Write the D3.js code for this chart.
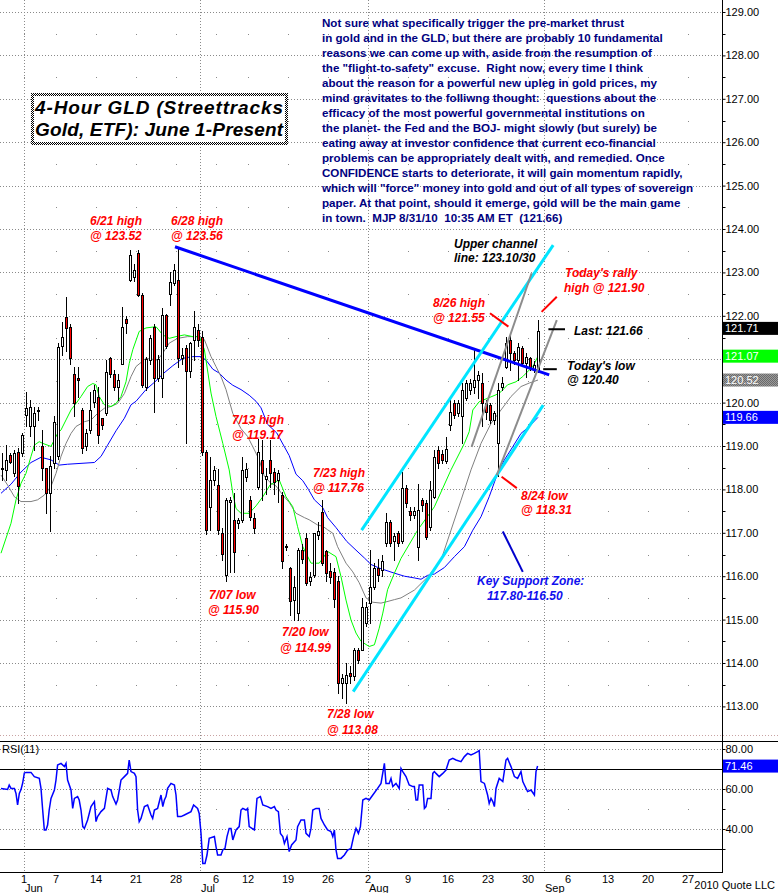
<!DOCTYPE html>
<html><head><meta charset="utf-8">
<script src="https://cdn.jsdelivr.net/npm/d3@7"></script>
<style>html,body{margin:0;padding:0;background:#fff;}svg{display:block;}</style>
</head><body><svg id="c" width="778" height="893"></svg>
<script>
// ---------------- DATA ----------------
const candleStart = -6; // bar index of first candle (4-hour bars, 2 per trading day; bar 0 = Jun 1 am)
const opens = [118.50,118.45,118.80,118.37,118.87,118.83,
119.72,119.45,119.45,119.80,118.99,118.49,117.91,118.60,118.76,121.30,
121.98,121.75,120.67,120.57,119.83,118.99,119.37,120.02,120.14,119.64,
119.75,121.02,120.67,120.37,120.90,121.92,122.83,122.90,123.44,122.48,
120.37,120.98,121.75,120.56,120.56,122.02,122.50,122.75,122.83,121.02,
121.25,120.72,121.45,121.68,121.52,118.87,117.60,118.22,118.10,117.00,
116.02,117.72,117.29,117.22,117.29,118.29,117.75,117.33,118.06,118.68,
118.25,118.68,118.40,118.22,117.87,116.70,116.18,115.45,115.15,116.60,
116.87,115.88,116.03,116.95,117.49,116.57,116.12,116.10,115.88,113.54,
113.54,113.77,113.69,114.30,114.30,114.92,115.38,115.76,116.18,116.15,
116.76,117.26,116.80,116.99,116.80,118.03,117.50,117.42,116.68,117.75,
117.68,117.14,117.83,118.90,118.82,118.66,119.48,119.98,119.75,119.68,
120.10,120.29,120.37,120.52,120.45,119.98,119.94,119.60,119.06,120.37,
120.83,121.45,121.14,120.98,121.25,120.91,121.02,120.78,120.75];
const highs = [118.83,119.02,118.85,118.90,118.95,119.30,
120.25,120.06,119.90,119.90,119.37,118.50,118.76,119.70,121.37,121.85,
122.44,121.80,120.83,120.83,119.87,119.40,120.25,120.40,120.37,119.65,
120.98,121.05,120.75,120.67,122.21,122.00,123.52,123.20,123.52,122.52,
121.05,121.55,121.80,121.10,122.18,122.05,123.00,123.20,123.56,121.25,
121.33,121.40,122.10,121.80,121.64,118.90,118.75,118.55,118.48,117.10,
117.80,117.83,117.91,117.35,118.75,118.60,117.85,117.45,119.17,119.14,
118.50,119.14,118.50,118.45,117.95,116.75,116.22,116.00,116.65,116.75,
116.99,116.10,117.00,117.25,117.76,116.60,116.30,116.20,116.00,113.75,
114.00,113.92,114.35,114.35,115.50,115.40,116.60,116.30,116.40,116.50,
117.45,117.30,117.00,117.05,118.41,118.10,117.60,117.60,118.13,117.80,
117.75,118.20,118.90,119.00,118.90,119.20,120.06,120.05,120.05,120.45,
120.53,120.55,121.26,120.72,120.68,120.06,119.98,119.80,120.45,120.60,
121.52,121.55,121.20,121.37,121.30,121.14,121.06,120.95,121.90];
const lows = [118.22,118.22,118.60,118.30,117.68,118.76,
119.45,119.22,118.90,119.60,118.22,117.45,117.03,118.50,118.70,121.10,
121.20,120.90,119.70,120.14,118.85,118.90,119.30,119.90,119.06,119.40,
119.72,120.60,120.30,120.06,120.90,121.60,122.80,122.80,122.45,120.37,
120.30,120.90,119.79,120.50,120.14,121.25,122.25,122.70,120.83,120.90,
119.06,120.60,120.98,121.30,118.80,116.98,117.06,118.10,116.98,116.37,
115.90,116.10,116.10,117.10,117.25,118.20,117.30,117.00,118.02,117.76,
117.90,118.06,117.90,117.70,116.20,116.60,115.11,114.99,115.00,116.30,
115.80,115.80,115.98,116.85,116.26,115.90,115.85,115.30,113.30,113.20,
113.08,113.54,113.60,114.00,114.30,114.85,114.92,115.70,115.90,116.00,
116.69,116.69,116.38,116.70,116.76,117.60,117.30,117.35,116.37,117.50,
116.85,117.07,117.80,118.50,118.60,118.60,119.38,119.65,119.70,119.06,
120.06,120.20,120.22,120.10,119.45,119.63,119.52,119.50,118.31,120.30,
120.80,120.75,120.90,120.53,120.85,120.60,120.75,120.70,120.70];
const closes = [118.48,118.68,118.64,118.83,118.07,119.25,
119.87,119.90,119.75,119.82,118.49,117.91,118.53,119.56,121.29,121.52,
121.71,121.02,119.98,120.52,118.95,119.30,119.83,120.29,119.25,119.48,
120.71,120.67,120.37,120.52,121.75,121.84,123.41,123.05,122.48,120.41,
121.00,121.48,120.56,121.00,122.02,121.30,122.79,123.06,121.02,121.10,
120.72,121.37,121.75,121.45,118.87,117.06,118.22,118.45,117.06,116.52,
117.75,117.76,116.56,117.29,118.45,118.48,117.37,117.10,118.87,118.37,
118.30,118.37,118.18,118.37,116.34,116.68,115.42,115.75,116.60,116.40,
115.84,115.99,116.99,117.05,116.30,116.07,115.98,115.47,113.53,113.65,
113.73,113.69,114.30,114.07,115.30,115.30,115.76,116.18,116.03,116.34,
117.26,116.76,116.92,116.76,118.03,117.68,117.42,117.50,117.52,117.64,
116.91,117.98,118.75,118.60,118.67,118.94,119.79,119.72,119.98,120.29,
120.45,120.45,120.53,120.64,119.98,119.79,119.60,119.75,120.29,120.45,
121.37,121.14,120.98,121.29,120.91,121.06,120.83,120.87,121.66];

// moving averages: [bar index, price]
const maGreen = [[-6.25,116.53],[-3.75,117.22],[-2.5,117.76],[-1.25,118.14],[0,118.37],[1.25,118.76],[2.1,119.02],[3.3,119.1],[4.2,119.06],[6.25,118.99],[7.9,119.29],[8.75,119.37],[10,119.6],[11.25,119.83],[12.5,119.98],[13.75,120.14],[15.4,120.37],[16.7,120.44],[17.5,120.41],[18.3,120.14],[19.6,119.95],[21.25,119.91],[22.5,119.98],[23.75,120.14],[25,120.48],[25.8,120.9],[26.7,121.22],[28.3,121.64],[30,121.72],[32.5,121.75],[34.2,121.56],[35.8,121.48],[37.5,121.52],[39.6,121.56],[41.7,121.52],[43.3,121.52],[44.6,121.22],[46.25,120.22],[47.5,119.68],[49.2,119.06],[50.8,118.45],[51.7,117.91],[52.5,117.56],[53.75,117.45],[55.8,117.45],[57.5,117.62],[59.2,117.83],[61,118.1],[62.5,118.18],[63.3,118.22],[65,117.83],[66.7,117.6],[67.9,117.14],[69.2,116.68],[71.25,116.3],[73.3,116.3],[75.4,116.57],[77.5,116.45],[78.75,115.99],[80,115.45],[81.25,114.99],[82.5,114.69],[83.75,114.5],[85.8,114.38],[87.1,114.42],[88.3,114.8],[89.2,115.15],[90.4,115.69],[92.1,116.07],[93.75,116.41],[97.9,117.06],[102.1,117.6],[106.25,118.45],[109.6,119.06],[110.8,119.33],[111.7,119.83],[113.3,120.02],[115.4,120.1],[117.5,120.18],[118.75,120.25],[120.4,120.41],[122.5,120.48],[124.2,120.6],[125.8,120.75],[126.7,120.83],[128,121.07]];
const maGray = [[-6.25,118.33],[-4.6,118.1],[-2.9,117.83],[-1.25,117.72],[1.25,117.72],[2.9,117.76],[4.6,117.87],[6.25,118.07],[7.5,118.37],[8.75,118.76],[10,119.06],[11.25,119.29],[12.5,119.45],[14.6,119.56],[16.25,119.6],[17.9,119.75],[19.6,119.87],[21.25,119.91],[22.9,119.98],[24.6,120.21],[26.25,120.6],[27.5,120.83],[30,121.02],[32.9,120.98],[34.2,121.14],[35.8,121.37],[37.9,121.48],[40.4,121.52],[42.9,121.52],[44.6,121.45],[46.25,121.06],[47.5,120.83],[48.75,120.6],[50,120.3],[51.7,119.75],[53.75,119.4],[55.4,119.22],[57.1,118.91],[58.3,118.68],[59.6,118.3],[61.25,118.14],[62.5,118.08],[64.2,117.87],[65.8,117.7],[67.5,117.45],[69.6,117.35],[70.8,117.3],[72.9,117.18],[74.2,117.15],[75.4,117.07],[76.7,116.99],[77.9,116.68],[80,116.3],[81.7,116.1],[83.3,115.85],[85,115.5],[86.7,115.4],[88.75,115.38],[90.5,115.42],[92.1,115.46],[93.75,115.5],[97.1,115.68],[100.4,115.98],[103.75,116.37],[106.25,117.06],[108.75,117.75],[111.25,118.45],[113.75,119.06],[116.25,119.52],[118.75,119.83],[121.25,120.14],[123.75,120.37],[125.8,120.45],[128,120.52]];
const maBlue = [[-6.25,117.91],[-3.75,118.12],[-1.25,118.4],[1.25,118.62],[3.75,118.74],[6.25,118.68],[8.3,118.56],[10.4,118.58],[13.75,118.6],[17.1,118.62],[18.75,118.76],[20.4,119.02],[22.5,119.35],[24.6,119.64],[26.25,119.95],[27.5,120.03],[30,120.3],[32.5,120.5],[34.2,120.66],[36.7,120.85],[39.2,121.02],[41.7,121.06],[43.75,121.06],[45,120.98],[46.7,120.77],[48.3,120.68],[50,120.52],[51.7,120.4],[53.75,120.3],[55.8,120.17],[57.5,120.03],[58.75,119.88],[60.4,119.5],[62.7,119.3],[65.8,118.78],[67.5,118.35],[69.2,118.2],[70.6,118.0],[72.1,117.76],[74.2,117.58],[75.4,117.35],[77.5,117.12],[80.2,116.8],[82.5,116.6],[84.6,116.42],[86.25,116.27],[88.5,116.18],[92.1,116.07],[94.6,116.0],[97.1,115.96],[98.75,115.93],[100.4,116.02],[102.1,116.05],[104.6,116.2],[107.1,116.45],[109.6,116.68],[111.7,117.06],[113.75,117.37],[115.8,117.83],[117.9,118.37],[119.6,118.68],[121.67,118.98],[123.75,119.29],[125.8,119.45],[128,119.66]];

// RSI(11): [bar index, value]
const rsiPts = [[-6.25,60.3],[-4.6,59.8],[-4.2,62],[-3.75,60.3],[-2.9,60.3],[-2.5,57.8],[-2.1,52],[-1.67,57.8],[-1.25,59.7],[-0.83,63],[-0.42,68],[0,68.3],[1.25,68.3],[2.08,66.2],[3.33,65.3],[3.75,60.3],[4.17,49.5],[4.58,39.5],[5,39.5],[5.4,42],[5.8,49.5],[6.25,55.3],[7.1,59.5],[7.5,64.5],[7.9,72],[8.75,72.8],[9.6,71.2],[10,72.8],[10.4,64.5],[11.25,59.5],[11.67,50.3],[12.1,55.3],[12.9,56.2],[13.3,54.5],[13.75,49.5],[14.2,41.2],[14.6,40.3],[15.4,44.5],[16.25,51.2],[17.1,53.7],[17.5,43.7],[17.9,46.2],[18.75,48.7],[19.6,50.3],[20.4,60.3],[21.25,59.5],[21.67,56.2],[22.5,52.5],[22.9,54.5],[23.75,64.5],[24.6,66.2],[25.4,67.8],[25.8,74.5],[26.25,68.7],[27.1,67.8],[27.5,66.2],[27.9,49.5],[28.3,43.7],[28.75,45.3],[29.6,51.2],[30.4,52],[31.25,47],[31.67,45.3],[32.1,49.5],[32.9,50.3],[33.75,57],[34.2,51.2],[34.6,54.5],[35,56.2],[35.4,60.3],[36.25,62.8],[37.1,62],[37.5,57],[37.9,46.2],[38.75,46.2],[39.6,47],[41.25,48.7],[41.9,52],[42.9,50.3],[43.3,47.8],[43.75,37.8],[44.2,22.8],[44.75,22.8],[45.25,27],[45.8,35.3],[47.1,36.2],[47.5,31.2],[47.9,27],[48.75,27],[49.2,29.5],[49.75,30.3],[50.25,36.2],[50.8,40.3],[51.25,40.3],[51.7,34.5],[52.5,39.5],[53.3,41.2],[53.75,49.5],[54.2,50.3],[55,49.5],[55.4,50.3],[55.8,41.2],[57.1,39.5],[57.75,55.3],[58.6,56.2],[59.2,52],[60.4,51.2],[61.25,50.3],[62.1,51.2],[62.5,49.5],[63.1,48.7],[63.6,37.8],[64.2,36.2],[64.6,32.8],[65.25,36.2],[65.8,28.7],[66.4,32],[67.5,34.5],[67.9,41.2],[68.75,44.5],[69.6,44.5],[70,37.8],[70.8,36.2],[71.25,40.3],[71.7,49.5],[72.5,50.3],[73.3,50.3],[73.75,45.3],[74.6,42],[75.4,39.5],[76.25,38.7],[76.7,36.2],[77.1,39.5],[77.5,29.5],[77.9,25.3],[78.75,25.3],[79.6,27],[80.4,29.5],[81.25,30.3],[81.9,36.2],[82.5,40.3],[83.1,37.8],[83.6,41.2],[84.2,54.5],[85,55.3],[85.8,54.5],[86.7,57],[87.9,60.3],[88.75,62.8],[89.6,72.8],[90,62.8],[90.8,62.8],[91.25,65.3],[91.7,61.2],[92.5,62.8],[93.3,60.3],[93.75,70.3],[94.2,68.7],[95,66.2],[95.8,62],[96.7,61.2],[97.1,61.2],[97.5,54.5],[97.9,54.5],[98.3,62],[99.2,62],[99.6,50.3],[100,51.2],[100.4,55.3],[101.25,55.3],[101.7,67.8],[102.1,68.7],[102.5,67.8],[103.3,66.2],[104.2,67.8],[105,69.5],[105.8,74.5],[106.7,75.3],[107.5,74.5],[108.75,73.7],[109.6,76.2],[110.4,77.8],[111.25,77],[112.1,77.8],[112.9,78.7],[113.3,79.2],[113.75,63.7],[114.6,62.8],[115.4,57],[115.8,52.8],[116.25,55.3],[116.7,53.7],[117.1,51.2],[117.5,60.3],[118.3,65.3],[119.2,63.7],[120,74.5],[120.4,75.3],[121.25,71.2],[122.1,66.2],[122.9,65.3],[123.75,68.7],[124.2,63.7],[124.6,62],[125.4,58.7],[126.25,59.5],[127.1,57],[127.5,68.7],[127.9,71.46]];

const priceTicks = [113,114,115,116,117,118,119,120,121,122,123,124,125,126,127,128,129];
const rsiTicks = [80,60,40];
const rsiBands = [70,30];
const priceTags = [121.71,121.07,120.52,119.66];
const rsiTag = 71.46;

const weekTickDates = ["2010-06-01","2010-06-07","2010-06-14","2010-06-21","2010-06-28","2010-07-06","2010-07-12","2010-07-19","2010-07-26","2010-08-02","2010-08-09","2010-08-16","2010-08-23","2010-08-30","2010-09-06","2010-09-13","2010-09-20","2010-09-27"];
const weekTickLabels = ["1","7","14","21","28","6","12","19","26","2","9","16","23","30","6","13","20","27"];
const monthDates = ["2010-06-01","2010-07-01","2010-08-02","2010-09-01"];
const monthLabels = ["Jun","Jul","Aug","Sep"];
const holidays = ["2010-07-05"];

// annotation lines in (bar, price)
const trendLine = [[37.25,123.59],[130.8,120.64]];
const channelUpper = [[83.9,117.06],[131.8,123.63]];
const channelLower = [[81.8,113.34],[129.3,119.94]];
const grayLine1 = [[111.4,118.98],[126.4,122.98]];
const grayLine2 = [[117.7,118.33],[132.7,121.90]];
const redPointers = [[[116,122.06],[120.6,121.75]],[[128.9,122.09],[132.7,122.44]],[[118.9,118.29],[122.7,118.03]]];
const blackPointers = [[[130.6,121.69],[134.75,121.69]],[[129.3,120.77],[132.7,120.77]]];
const bluePointer = [[119.2,117.03],[124.2,116.10]];

const titleLines = ["4-Hour GLD (Streettracks","Gold, ETF): June 1-Present"];
const commentary = [
"Not sure what specifically trigger the pre-market thrust",
"in gold and in the GLD, but there are probably 10 fundamental",
"reasons we can come up with, aside from the resumption of",
"the \"flight-to-safety\" excuse.  Right now, every time I think",
"about the reason for a powerful new upleg in gold prices, my",
"mind gravitates to the folliwng thought:  questions about the",
"efficacy of the most powerful governmental institutions on",
"the planet- the Fed and the BOJ- might slowly (but surely) be",
"eating away at investor confidence that current eco-financial",
"problems can be appropriately dealt with, and remedied. Once",
"CONFIDENCE starts to deteriorate, it will gain momentum rapidly,",
"which will \"force\" money into gold and out of all types of sovereign",
"paper. At that point, should it emerge, gold will be the main game",
"in town.  MJP 8/31/10  10:35 AM ET  (121.66)"];

// ---------------- CHART ----------------
const FONT = "'Liberation Sans', Arial, Helvetica, sans-serif";
const svg = d3.select("#c").style("font-family", FONT);
const W = 778, AXX = 722.5;

const x = d3.scaleLinear().domain([0,128]).range([26,538]);
const y = d3.scaleLinear().domain([113,129]).range([706.4,12]);
const yr = d3.scaleLinear().domain([40,80]).range([829,749]);

function tradingIndex(ds){
  const start = Date.UTC(2010,5,1);
  const [Y,M,D] = ds.split("-").map(Number);
  const end = Date.UTC(Y,M-1,D);
  let n = 0;
  for(let t=start; t<end; t+=86400000){
    const d = new Date(t); const wd = d.getUTCDay();
    const s = d.toISOString().slice(0,10);
    if(wd!==0 && wd!==6 && !holidays.includes(s)) n++;
  }
  return n;
}
const dayX = d => x(2*tradingIndex(d) - 0.5);

const defs = svg.append("defs");
defs.append("clipPath").attr("id","mainClip").append("rect").attr("x",0).attr("y",0).attr("width",722).attr("height",736);
defs.append("clipPath").attr("id","rsiClip").append("rect").attr("x",0).attr("y",742).attr("width",722).attr("height",130);
const pat = defs.append("pattern").attr("id","checker").attr("width",2).attr("height",2).attr("patternUnits","userSpaceOnUse");
pat.append("rect").attr("width",2).attr("height",2).attr("fill","#fff");
pat.append("rect").attr("width",1).attr("height",1).attr("fill","#000");
pat.append("rect").attr("x",1).attr("y",1).attr("width",1).attr("height",1).attr("fill","#000");
const pat2 = defs.append("pattern").attr("id","grayck").attr("width",2).attr("height",2).attr("patternUnits","userSpaceOnUse");
pat2.append("rect").attr("width",2).attr("height",2).attr("fill","#9a9a9a");
pat2.append("rect").attr("width",1).attr("height",1).attr("fill","#6a6a6a");
pat2.append("rect").attr("x",1).attr("y",1).attr("width",1).attr("height",1).attr("fill","#6a6a6a");

svg.append("rect").attr("width",W).attr("height",893).attr("fill","#fff");

// grid
const grid = svg.append("g").attr("shape-rendering","crispEdges");
grid.selectAll("line.hg").data(priceTicks).join("line")
  .attr("x1",0).attr("x2",722).attr("y1",d=>Math.round(y(d))+0.5).attr("y2",d=>Math.round(y(d))+0.5)
  .attr("stroke","#8a8a8a").attr("stroke-dasharray","1,2");
grid.selectAll("line.rg").data(rsiTicks).join("line")
  .attr("x1",0).attr("x2",722).attr("y1",d=>Math.round(yr(d))+0.5).attr("y2",d=>Math.round(yr(d))+0.5)
  .attr("stroke","#8a8a8a").attr("stroke-dasharray","1,2");
grid.selectAll("line.vg").data(monthDates).join("line")
  .attr("x1",d=>Math.round(dayX(d))+0.5).attr("x2",d=>Math.round(dayX(d))+0.5)
  .attr("y1",0).attr("y2",872).attr("stroke","#8a8a8a").attr("stroke-dasharray","1,2");
// sparse dots at week ticks / half levels
const halfLevels = priceTicks.slice(0,-1).map(p=>p+0.5);
const dots = [];
weekTickDates.forEach(d=>{ const xx=Math.round(dayX(d)); if(xx<720){ halfLevels.forEach(p=>dots.push([xx,Math.round(y(p))])); dots.push([xx,Math.round(yr(50))]); }});
grid.selectAll("rect.dot").data(dots).join("rect").attr("x",d=>d[0]).attr("y",d=>d[1]).attr("width",1).attr("height",1).attr("fill","#8a8a8a");

// panel borders
grid.append("line").attr("x1",0).attr("x2",W).attr("y1",735.5).attr("y2",735.5).attr("stroke","#c9a3a3").attr("stroke-dasharray","1,2");
grid.append("line").attr("x1",0).attr("x2",W).attr("y1",741.5).attr("y2",741.5).attr("stroke","#000");
grid.append("line").attr("x1",0).attr("x2",722).attr("y1",872.5).attr("y2",872.5).attr("stroke","#000");
grid.selectAll("line.band").data(rsiBands).join("line")
  .attr("x1",0).attr("x2",722).attr("y1",d=>Math.round(yr(d))+0.5).attr("y2",d=>Math.round(yr(d))+0.5).attr("stroke","#000");
grid.append("line").attr("x1",AXX).attr("x2",AXX).attr("y1",0).attr("y2",873).attr("stroke","#000");

// title box
svg.append("rect").attr("x",32.5).attr("y",94.5).attr("width",254).attr("height",49)
  .attr("fill","#fff").attr("stroke","url(#checker)").attr("stroke-width",3);
svg.append("g").selectAll("text").data(titleLines).join("text")
  .attr("x",35).attr("y",(d,i)=>114+22*i).attr("font-size",19).attr("font-weight","bold").attr("font-style","italic")
  .attr("textLength",248).attr("lengthAdjust","spacing").text(d=>d);

// commentary
svg.append("g").selectAll("text").data(commentary).join("text")
  .attr("x",322).attr("y",(d,i)=>27+15*i).attr("font-size",11.6).attr("font-weight","bold").attr("fill","#000080")
  .attr("xml:space","preserve").style("white-space","pre").text(d=>d);

// moving averages
const main = svg.append("g").attr("clip-path","url(#mainClip)");
const ln = d3.line().x(d=>x(d[0])).y(d=>y(d[1]));
main.append("path").datum(maBlue).attr("d",ln).attr("fill","none").attr("stroke","#0000ff").attr("stroke-width",1);
main.append("path").datum(maGray).attr("d",ln).attr("fill","none").attr("stroke","#808080").attr("stroke-width",1);
main.append("path").datum(maGreen).attr("d",ln).attr("fill","none").attr("stroke","#00ff00").attr("stroke-width",1);

// candles
const bars = opens.map((o,i)=>({b:candleStart+i,o,h:highs[i],l:lows[i],c:closes[i]}));
const cg = main.append("g").attr("shape-rendering","crispEdges");
cg.selectAll("line.wick").data(bars).join("line")
  .attr("x1",d=>Math.round(x(d.b))+0.5).attr("x2",d=>Math.round(x(d.b))+0.5)
  .attr("y1",d=>Math.round(y(d.h))).attr("y2",d=>Math.round(y(d.l))+1).attr("stroke","#000");
cg.selectAll("rect.body").data(bars).join("rect")
  .attr("x",d=>Math.round(x(d.b))-0.5).attr("width",2)
  .attr("y",d=>Math.round(y(Math.max(d.o,d.c)))+0.5)
  .attr("height",d=>Math.max(1,Math.round(y(Math.min(d.o,d.c)))-Math.round(y(Math.max(d.o,d.c)))))
  .attr("fill",d=>d.c>=d.o?"#fff":"#ff0000").attr("stroke","#000");

// annotation lines
const seg = (pts,color,w)=>svg.append("path").datum(pts).attr("d",ln).attr("fill","none").attr("stroke",color).attr("stroke-width",w);
seg(trendLine,"#0000ff",3);
seg(channelUpper,"#00e5ff",3);
seg(channelLower,"#00e5ff",3);
seg(grayLine1,"#8c8c8c",2);
seg(grayLine2,"#8c8c8c",2);
redPointers.forEach(p=>seg(p,"#ff0000",2));
blackPointers.forEach(p=>seg(p,"#000",2));
seg(bluePointer,"#0000cc",2);

// annotation text
const notes = [
 ["6/21 high",90,225,"#ff0000"],["@ 123.52",90,240,"#ff0000"],
 ["6/28 high",171,225,"#ff0000"],["@ 123.56",171,240,"#ff0000"],
 ["7/13 high",232,424,"#ff0000"],["@ 119.17",232,439,"#ff0000"],
 ["7/23 high",313,477,"#ff0000"],["@ 117.76",313,492,"#ff0000"],
 ["7/07 low",209,599,"#ff0000"],["@ 115.90",208,614,"#ff0000"],
 ["7/20 low",282,636,"#ff0000"],["@ 114.99",280,652,"#ff0000"],
 ["7/28 low",327,718,"#ff0000"],["@ 113.08",327,734,"#ff0000"],
 ["8/26 high",433,307,"#ff0000"],["@ 121.55",433,322,"#ff0000"],
 ["Today's rally",565,277,"#ff0000"],["high @ 121.90",564,292,"#ff0000"],
 ["8/24 low",521,500,"#ff0000"],["@ 118.31",521,514,"#ff0000"],
 ["Upper channel",454,248,"#000"],["line: 123.10/30",454,262,"#000"],
 ["Last: 121.66",574,335,"#000"],
 ["Today's low",567,370,"#000"],["@ 120.40",567,384,"#000"],
 ["Key Support Zone:",477,585,"#1010ee"],["117.80-116.50",487,600,"#1010ee"]];
svg.append("g").selectAll("text").data(notes).join("text")
  .attr("x",d=>d[1]).attr("y",d=>d[2]).attr("fill",d=>d[3])
  .attr("font-size",12).attr("font-weight","bold").attr("font-style","italic").text(d=>d[0]);

// RSI
const rsiG = svg.append("g").attr("clip-path","url(#rsiClip)");
const rl = d3.line().x(d=>x(d[0])).y(d=>yr(d[1]));
rsiG.append("path").datum(rsiPts).attr("d",rl).attr("fill","none").attr("stroke","#0000ff").attr("stroke-width",1.5);
svg.append("text").attr("x",2).attr("y",753).attr("font-size",11).text("RSI(11)");

// right axes (labels hidden where a value tag covers them)
const covered = p => priceTags.some(v=>Math.abs(y(p)-y(v))<9);
const ax = svg.append("g").attr("transform",`translate(${AXX},0)`)
  .call(d3.axisRight(y).tickValues(priceTicks).tickFormat(d=>covered(d)?"":d3.format(".2f")(d)).tickSize(3).tickPadding(0));
ax.select(".domain").remove();
ax.selectAll("text").attr("font-size",11).attr("font-family",FONT).attr("fill","#000");
const minor = priceTicks.slice(0,-1).map(p=>p+0.5);
svg.append("g").selectAll("line").data(minor).join("line")
  .attr("x1",AXX).attr("x2",AXX+3).attr("y1",d=>Math.round(y(d))+0.5).attr("y2",d=>Math.round(y(d))+0.5).attr("stroke","#000");
const axr = svg.append("g").attr("transform",`translate(${AXX},0)`)
  .call(d3.axisRight(yr).tickValues(rsiTicks).tickFormat(d3.format(".2f")).tickSize(3).tickPadding(0));
axr.select(".domain").remove();
axr.selectAll("text").attr("font-size",11).attr("font-family",FONT).attr("fill","#000");
svg.append("g").selectAll("line").data([70,50,30]).join("line")
  .attr("x1",AXX).attr("x2",AXX+3).attr("y1",d=>Math.round(yr(d))+0.5).attr("y2",d=>Math.round(yr(d))+0.5).attr("stroke","#000");

// value tags
const tagFill = ["#000","#00ff00","url(#grayck)","#0000ff"];
const tg = svg.append("g");
priceTags.forEach((v,i)=>{
  tg.append("rect").attr("x",723).attr("y",y(v)-6.5).attr("width",55).attr("height",13).attr("fill",tagFill[i]);
  tg.append("text").attr("x",725).attr("y",y(v)+4).attr("font-size",11).attr("fill","#fff").text(v.toFixed(2));
});
tg.append("rect").attr("x",723).attr("y",yr(rsiTag)-6.5).attr("width",55).attr("height",13).attr("fill","#0000ff");
tg.append("text").attr("x",725).attr("y",yr(rsiTag)+4).attr("font-size",11).attr("fill","#fff").text(rsiTag.toFixed(2));

// x labels
svg.append("g").selectAll("text").data(weekTickDates).join("text")
  .attr("x",d=>dayX(d)).attr("y",883).attr("text-anchor","middle").attr("font-size",11)
  .text((d,i)=>weekTickLabels[i]);
svg.append("g").selectAll("text").data(monthDates).join("text")
  .attr("x",d=>dayX(d)+1).attr("y",892).attr("font-size",11).text((d,i)=>monthLabels[i]);
svg.append("text").attr("x",775).attr("y",889).attr("text-anchor","end").attr("font-size",11).text("2010 Quote LLC");
</script></body></html>
